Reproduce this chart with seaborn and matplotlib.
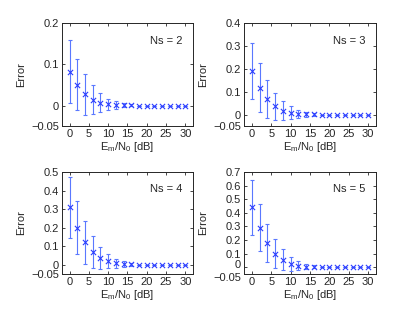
import numpy as np
import pandas as pd
import matplotlib
matplotlib.use("Agg")
import matplotlib.pyplot as plt
import matplotlib.transforms as mtransforms
import seaborn as sns

# SNR axis
snr_db = [0, 2, 4, 6, 8, 10, 12, 14, 16, 18, 20, 22, 24, 26, 28, 30]

# mean error and error-bar half widths per Ns
err_ns2 = [0.082, 0.050, 0.027, 0.014, 0.007, 0.003, 0.001, 0.001, 0.001, 0, 0, 0, 0, 0, 0, 0]
std_ns2 = [0.076, 0.062, 0.049, 0.035, 0.023, 0.014, 0.009, 0.005, 0.003, 0, 0, 0, 0, 0, 0, 0]
err_ns3 = [0.190, 0.118, 0.068, 0.036, 0.018, 0.008, 0.004, 0.002, 0.001, 0, 0, 0, 0, 0, 0, 0]
std_ns3 = [0.122, 0.106, 0.082, 0.058, 0.040, 0.028, 0.018, 0.010, 0.005, 0, 0, 0, 0, 0, 0, 0]
err_ns4 = [0.310, 0.200, 0.120, 0.068, 0.035, 0.018, 0.007, 0.003, 0.001, 0, 0, 0, 0, 0, 0, 0]
std_ns4 = [0.165, 0.143, 0.115, 0.085, 0.058, 0.037, 0.025, 0.015, 0.008, 0, 0, 0, 0, 0, 0, 0]
err_ns5 = [0.440, 0.290, 0.178, 0.100, 0.055, 0.023, 0.010, 0.004, 0.002, 0, 0, 0, 0, 0, 0, 0]
std_ns5 = [0.200, 0.175, 0.140, 0.105, 0.075, 0.050, 0.033, 0.020, 0.010, 0, 0, 0, 0, 0, 0, 0]

ns_labels = ["Ns = 2", "Ns = 3", "Ns = 4", "Ns = 5"]
y_tops = [0.2, 0.4, 0.5, 0.7]

sns.set_style("ticks")
plt.rcParams['font.family'] = ['Liberation Sans', 'DejaVu Sans']
plt.rcParams['mathtext.fontset'] = 'custom'
plt.rcParams['mathtext.rm'] = 'Liberation Sans'
plt.rcParams['axes.unicode_minus'] = True

fs = 8
fig = plt.figure(figsize=(4.15, 3.13), dpi=100)
positions = [
    [0.149, 0.597, 0.316, 0.329],
    [0.588, 0.597, 0.318, 0.329],
    [0.149, 0.125, 0.316, 0.325],
    [0.588, 0.125, 0.318, 0.325],
]
means = [err_ns2, err_ns3, err_ns4, err_ns5]
stds = [std_ns2, std_ns3, std_ns4, std_ns5]

blue = "#2a3cff"
for i in range(4):
    ax = fig.add_axes(positions[i])
    df = pd.DataFrame({"snr": snr_db, "err": means[i], "sd": stds[i]})
    ax.errorbar(df["snr"], df["err"], yerr=df["sd"], fmt="none",
                ecolor="#5a78ff", elinewidth=0.8, capsize=1.5, capthick=0.8)
    sns.scatterplot(data=df, x="snr", y="err", marker="x", color=blue,
                    s=14, linewidth=0.8, ax=ax, zorder=3)
    ax.set_xlim(-2, 32)
    ax.set_ylim(-0.05, y_tops[i])
    ax.set_xticks([0, 5, 10, 15, 20, 25, 30])
    yt = [-0.05, 0] + [round(0.1 * k, 1) for k in range(1, int(round(y_tops[i] * 10)) + 1)]
    ax.set_yticks(yt)
    ax.set_yticklabels(["\u22120.05", "0"] + [f"{v:g}" for v in yt[2:]])
    ax.tick_params(direction="in", length=2.5, width=0.6, labelsize=fs, pad=2,
                   top=True, right=True)
    # the two lowest labels sit very close on the tallest scale; nudge apart
    if y_tops[i] >= 0.7:
        labs = ax.get_yticklabels()
        labs[0].set_transform(labs[0].get_transform() +
                              mtransforms.ScaledTranslation(0, -2.5 / 72, fig.dpi_scale_trans))
        labs[1].set_transform(labs[1].get_transform() +
                              mtransforms.ScaledTranslation(0, 2.0 / 72, fig.dpi_scale_trans))
    for sp in ax.spines.values():
        sp.set_linewidth(0.7)
    ax.set_xlabel(r"E$_\mathrm{m}$/N$_\mathrm{0}$ [dB]", fontsize=fs, labelpad=1)
    ax.set_ylabel("Error", fontsize=fs, labelpad=4)
    ax.text(0.92, 0.83, ns_labels[i], transform=ax.transAxes, ha="right",
            va="center", fontsize=fs)

plt.savefig("out.png", dpi=100)
